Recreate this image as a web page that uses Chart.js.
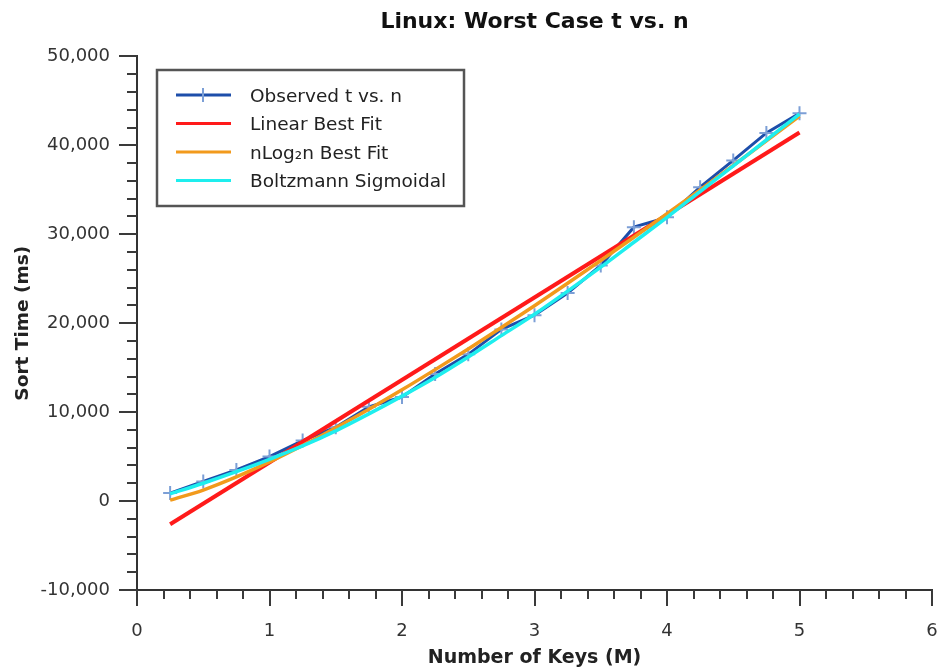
<!DOCTYPE html>
<html>
<head>
<meta charset="utf-8">
<title>Linux: Worst Case t vs. n</title>
<script src="https://cdn.jsdelivr.net/npm/chart.js@4.4.0/dist/chart.umd.min.js"></script>
<style>
    html, body { margin: 0; padding: 0; background: #fff; }
    #wrap { width: 943px; height: 672px; }
</style>
</head>
<body>
<div id="wrap"><canvas id="sort-chart"></canvas></div>
<script>
// start: Data
const keysM = [0.25, 0.5, 0.75, 1.0, 1.25, 1.5, 1.75, 2.0, 2.25, 2.5, 2.75, 3.0, 3.25, 3.5, 3.75, 4.0, 4.25, 4.5, 4.75, 5.0]
const observedMs = [900, 2200, 3500, 5000, 6800, 8300, 10600, 11700, 14300, 16500, 19300, 20900, 23400, 26500, 30800, 31900, 35300, 38300, 41400, 43600]
const linearKeysM = [0.25, 5.0]
const linearMs = [-2600, 41450]
const nlognMs = [100, 1240, 2710, 4400, 6250, 8240, 10330, 12510, 14780, 17110, 19510, 21970, 24490, 27050, 29660, 32310, 35000, 37730, 40500, 43300]
const boltzmannMs = [800, 2000, 3300, 4700, 6200, 7900, 9800, 11800, 13900, 16200, 18600, 21000, 23600, 26300, 29100, 31900, 34800, 37700, 40600, 43500]
const yTicks = [-10000, 0, 10000, 20000, 30000, 40000, 50000]
const xTicks = [0, 1, 2, 3, 4, 5, 6]
// end: Data

function toPoints(xs, ys) {
    return xs.map((x, i) => ({ x: x, y: ys[i] }))
}

Chart.defaults.font.family = "'DejaVu Sans', sans-serif"
Chart.defaults.color = '#333'

// start: Plugins
// major + minor tick marks (chart.js only has one tick length)
const axisTicks = {
    id: 'axisTicks',
    afterDraw(chart) {
        const ctx = chart.ctx
        const xs = chart.scales.x
        const ys = chart.scales.y
        ctx.save()
        ctx.strokeStyle = '#3a3a3a'
        ctx.lineWidth = 2
        ctx.beginPath()
        for (let i = 0; i <= 30; i++) {
            const v = yTicks[0] + i * 2000
            const py = Math.round(ys.getPixelForValue(v))
            const len = i % 5 === 0 ? 18 : 10
            ctx.moveTo(ys.right - len, py)
            ctx.lineTo(ys.right, py)
        }
        for (let i = 0; i <= 30; i++) {
            const px = Math.round(xs.getPixelForValue(i / 5))
            const len = i % 5 === 0 ? 16 : 9
            ctx.moveTo(px, xs.top)
            ctx.lineTo(px, xs.top + len)
        }
        ctx.stroke()
        ctx.restore()
    }
}

// boxed legend in the top left corner of the plot
const boxLegend = {
    id: 'boxLegend',
    afterDraw(chart) {
        const ctx = chart.ctx
        const left = 157, top = 70, w = 307, h = 136
        ctx.save()
        ctx.fillStyle = '#fff'
        ctx.fillRect(left, top, w, h)
        ctx.strokeStyle = '#555'
        ctx.lineWidth = 2.5
        ctx.strokeRect(left, top, w, h)
        ctx.font = "18.5px 'DejaVu Sans', sans-serif"
        ctx.textBaseline = 'middle'
        chart.data.datasets.forEach(function (ds, i) {
            const cy = top + 25 + i * 28.5
            ctx.strokeStyle = ds.borderColor
            ctx.lineWidth = 3
            ctx.beginPath()
            ctx.moveTo(left + 19, cy)
            ctx.lineTo(left + 74, cy)
            ctx.stroke()
            if (ds.pointStyle === 'cross') {
                ctx.strokeStyle = ds.pointBorderColor
                ctx.lineWidth = 2
                ctx.beginPath()
                ctx.moveTo(left + 46, cy - 7)
                ctx.lineTo(left + 46, cy + 7)
                ctx.stroke()
            }
            ctx.fillStyle = '#222'
            ctx.fillText(ds.label, left + 93, cy + 2)
        })
        ctx.restore()
    }
}
// end: Plugins

// start: Chart
new Chart(document.getElementById('sort-chart'), {
    type: 'line',
    data: {
        datasets: [
            {
                label: 'Observed t vs. n',
                data: toPoints(keysM, observedMs),
                borderColor: '#1d4eaa',
                borderWidth: 3,
                pointStyle: 'cross',
                pointRadius: 7,
                pointBorderWidth: 2,
                pointBorderColor: '#7c9fd6',
                pointBackgroundColor: '#7c9fd6',
                tension: 0,
                order: 4
            },
            {
                label: 'Linear Best Fit',
                data: toPoints(linearKeysM, linearMs),
                borderColor: '#ff1a1a',
                borderWidth: 4,
                pointRadius: 0,
                order: 3
            },
            {
                label: 'nLog\u2082n Best Fit',
                data: toPoints(keysM, nlognMs),
                borderColor: '#f29a1c',
                borderWidth: 3.5,
                pointRadius: 0,
                cubicInterpolationMode: 'monotone',
                order: 2
            },
            {
                label: 'Boltzmann Sigmoidal',
                data: toPoints(keysM, boltzmannMs),
                borderColor: '#1eeeee',
                borderWidth: 3.5,
                pointRadius: 0,
                cubicInterpolationMode: 'monotone',
                order: 1
            }
        ]
    },
    options: {
        responsive: true,
        maintainAspectRatio: false,
        animation: false,
        layout: {
            padding: { top: 0, right: 11, bottom: 0, left: 0 }
        },
        plugins: {
            legend: { display: false },
            tooltip: { enabled: false },
            title: {
                display: true,
                fullSize: false,
                text: 'Linux: Worst Case t vs. n',
                color: '#111',
                font: { size: 22, weight: 'bold' },
                padding: { top: 9, bottom: 21 }
            }
        },
        scales: {
            x: {
                type: 'linear',
                min: xTicks[0],
                max: xTicks[xTicks.length - 1],
                afterFit: function (scale) {
                    scale.height = 82
                    scale.paddingLeft = 0
                    scale.paddingRight = 0
                },
                border: { display: true, color: '#333', width: 2 },
                grid: { display: true, drawOnChartArea: false, tickLength: 16, tickColor: 'transparent' },
                ticks: { stepSize: 1, padding: 15, maxRotation: 0, color: '#333', font: { size: 18 } },
                title: {
                    display: true,
                    text: 'Number of Keys (M)',
                    color: '#222',
                    font: { size: 19, weight: 'bold' },
                    padding: { top: 0, bottom: 3 }
                }
            },
            y: {
                type: 'linear',
                min: yTicks[0],
                max: yTicks[yTicks.length - 1],
                afterFit: function (scale) { scale.width = 137 },
                border: { display: true, color: '#333', width: 2 },
                grid: { display: true, drawOnChartArea: false, tickLength: 18, tickColor: 'transparent' },
                ticks: { stepSize: 10000, padding: 9, color: '#333', font: { size: 18 } },
                title: {
                    display: true,
                    text: 'Sort Time (ms)',
                    color: '#222',
                    font: { size: 18.5, weight: 'bold' },
                    padding: { top: 12, bottom: 0 }
                }
            }
        }
    },
    plugins: [axisTicks, boxLegend]
});
// end: Chart
</script>
</body>
</html>
